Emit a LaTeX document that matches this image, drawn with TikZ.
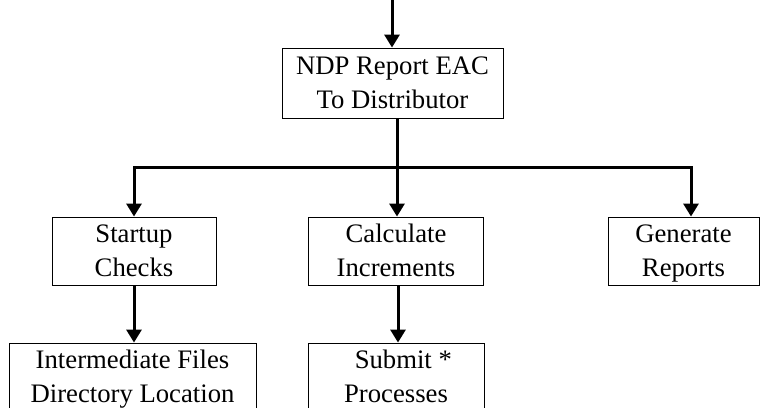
\documentclass[tikz,border=0pt]{standalone}
\usepackage{fontspec}
\setmainfont{Liberation Serif}
\usetikzlibrary{arrows.meta}
\newcommand{\topo}{\rule{0pt}{24pt}}
\newcommand{\fundo}{\rule[-7pt]{0pt}{7pt}}
\begin{document}
\begin{tikzpicture}[x=1pt, y=-1pt,
  >={Triangle[width=15pt, length=13pt]},
  bloco/.style={draw, line width=0.9pt, align=center, inner sep=0pt,
    font=\fontsize{26.7}{34}\selectfont, minimum height=68pt},
  fio/.style={line width=3pt}]
\useasboundingbox (0,0) rectangle (760,407);
\clip (0,0) rectangle (760,407);
% Caixa principal
\coordinate (entrada) at (392,0);
\node[bloco, minimum width=221pt, minimum height=70pt] (ndp) at (392.5,83) {\topo NDP Report EAC\\To Distributor\fundo};
\draw[fio, ->] (entrada) -- (entrada |- ndp.north);
% Nivel 2
\node[bloco, minimum width=164pt] (startup) at (134,251) {\topo Startup\\Checks\fundo};
\node[bloco, minimum width=175pt] (calc) at (396,251) {\topo Calculate\\Increments\fundo};
\node[bloco, minimum width=151pt] (gen) at (683.5,251) {\topo Generate\\Reports\fundo};
% Nivel 3
\node[bloco, minimum width=247pt] (inter) at (132.5,377) {\topo Intermediate Files\\Directory Location\fundo};
\node[bloco, minimum width=176pt] (submit) at (396,377) {\topo\hspace*{0.55em}Submit *\\Processes\fundo};
% Barramento
\coordinate (hub) at (397,167);
\coordinate (genin) at ([xshift=7.5pt]gen.north);
\draw[fio] ([xshift=4.5pt]ndp.south) -- (hub);
\draw[fio, ->] (hub) -| (startup.north);
\draw[fio, ->] (hub) -- (hub |- calc.north);
\draw[fio, ->] (hub) -| (genin);
% Setas inferiores
\draw[fio, ->] (startup.south) -- (startup.south |- inter.north);
\draw[fio, ->] ([xshift=2pt]calc.south) -- ([xshift=2pt]calc.south |- submit.north);
\end{tikzpicture}
\end{document}
